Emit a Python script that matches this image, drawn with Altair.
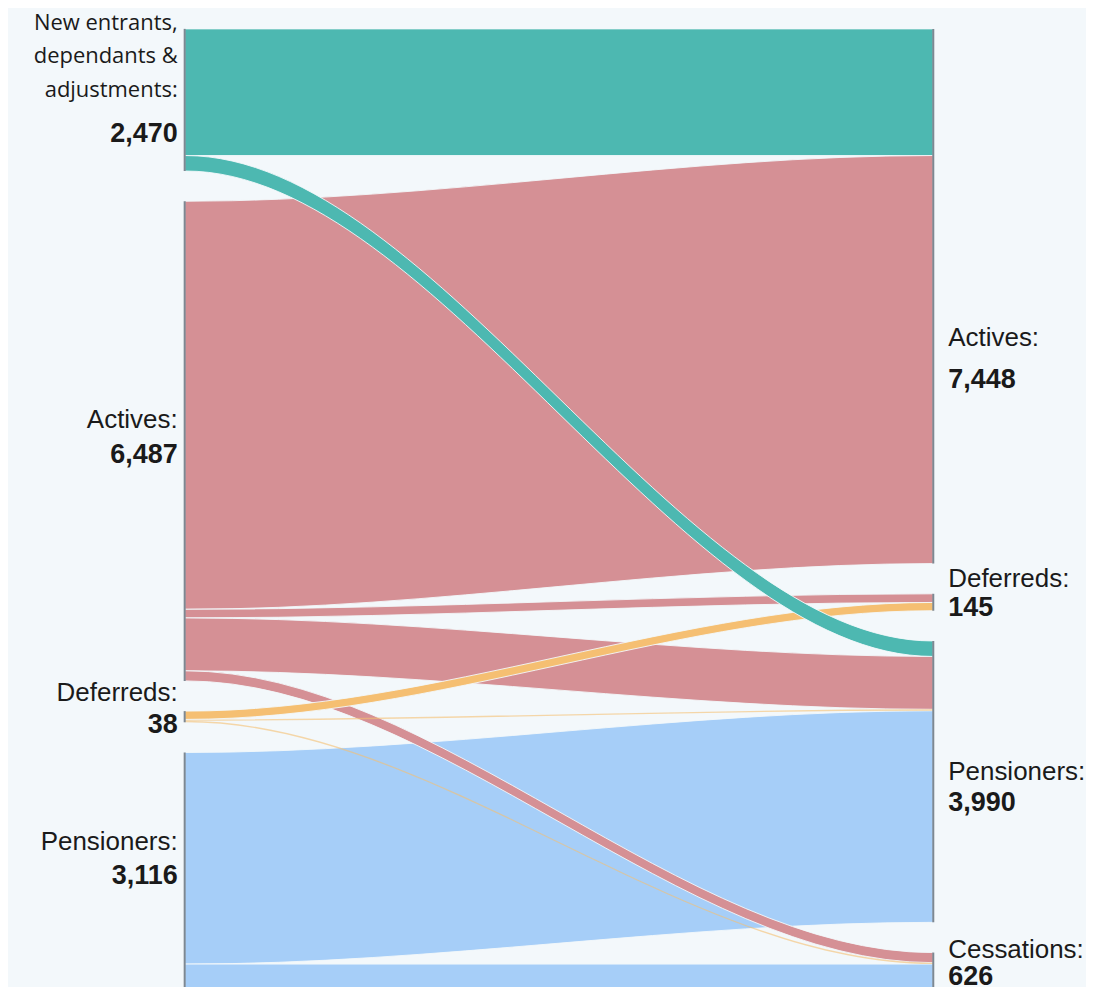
import altair as alt
import pandas as pd

# ---------------- data ----------------
left_nodes = ["New entrants", "Actives", "Deferreds", "Pensioners"]
right_nodes = ["Actives", "Deferreds", "Pensioners", "Cessations"]

flow_source = ["New entrants", "New entrants", "Actives", "Actives", "Actives", "Actives",
               "Deferreds", "Deferreds", "Deferreds", "Pensioners", "Pensioners"]
flow_target = ["Actives", "Pensioners", "Actives", "Deferreds", "Pensioners", "Cessations",
               "Deferreds", "Pensioners", "Cessations", "Pensioners", "Cessations"]
flow_value = [1760, 215, 5670, 120, 735, 140, 115, 20, 20, 2940, 460]

left_names = [["New entrants,", "dependants &", "adjustments:"], ["Actives:"], ["Deferreds:"], ["Pensioners:"]]
left_totals = ["2,470", "6,487", "38", "3,116"]
right_names = [["Actives:"], ["Deferreds:"], ["Pensioners:"], ["Cessations:"]]
right_totals = ["7,448", "145", "3,990", "626"]

# ---------------- style ----------------
BG = "#f3f8fb"
node_color = {"New entrants": "#4db8b1", "Actives": "#d59095",
              "Deferreds": "#f5bf72", "Pensioners": "#a6cef8"}
TEXT = "#1a1a1a"
K = 0.0721          # pixels per member
GAP = 420           # gap between nodes (members)
W, H = 1078, 979
X_LEFT_PX, X_SPAN_PX = 177, 750
TOP_PX = 20

# ---------------- sankey layout ----------------
n = len(flow_value)
src_pos, tgt_pos = {}, {}
node_extent = []
cur = 0.0
for nd in left_nodes:
    idx = sorted([i for i in range(n) if flow_source[i] == nd],
                 key=lambda i: right_nodes.index(flow_target[i]))
    top = cur
    for i in idx:
        src_pos[i] = (cur, cur + flow_value[i])
        cur += flow_value[i]
    node_extent.append(("L", nd, top, cur))
    cur += GAP
cur = 0.0
for nd in right_nodes:
    idx = sorted([i for i in range(n) if flow_target[i] == nd],
                 key=lambda i: left_nodes.index(flow_source[i]))
    top = cur
    for i in idx:
        tgt_pos[i] = (cur, cur + flow_value[i])
        cur += flow_value[i]
    node_extent.append(("R", nd, top, cur))
    cur += GAP

# each link: flat at the source, flat at the target, monotone curve between
rows = []
for i in range(n):
    a0, a1 = src_pos[i]
    b0, b1 = tgt_pos[i]
    for xx, (y0, y1) in zip([0, 0.001, 0.999, 1], [(a0, a1), (a0, a1), (b0, b1), (b0, b1)]):
        rows.append({"fid": i, "x": xx, "y0": y0, "y1": y1})
flows_df = pd.DataFrame(rows)

xs = alt.Scale(domain=[-X_LEFT_PX / X_SPAN_PX, (W - X_LEFT_PX) / X_SPAN_PX], nice=False, zero=False)
ys = alt.Scale(domain=[-TOP_PX / K, (H - TOP_PX) / K], reverse=True, nice=False, zero=False)

# draw order (back to front)
order = [0, 2, 3, 4, 9, 10, 5, 7, 8, 6, 1]
layers = []
for i in order:
    px_w = flow_value[i] * K
    kw = dict(interpolate="monotone", color=node_color[flow_source[i]])
    if px_w > 5:
        kw.update(stroke=BG, strokeWidth=0.9)
    else:
        kw.update(opacity=0.6)
    layers.append(
        alt.Chart(flows_df[flows_df.fid == i]).mark_area(**kw).encode(
            x=alt.X("x:Q", scale=xs, axis=None),
            y=alt.Y("y0:Q", scale=ys, axis=None),
            y2="y1:Q",
        )
    )

nodes_df = pd.DataFrame([{"side": s, "node": nd, "x": 0 if s == "L" else 1, "y0": a, "y1": b}
                         for s, nd, a, b in node_extent])
layers.append(
    alt.Chart(nodes_df).mark_rule(color="#7d8892", strokeWidth=2).encode(
        x=alt.X("x:Q", scale=xs, axis=None),
        y=alt.Y("y0:Q", scale=ys, axis=None),
        y2="y1:Q",
    )
)

# ---------------- labels ----------------
# offsets (px) of each text line from the node's centre
left_name_off = [[-77, -44, -10], [-21], [-24], [-33]]
left_total_off = [34, 14, 8, 1]
right_name_off = [[42], [-23], [-10], [-25]]
right_total_off = [84, 6, 21, 2]

lab = []
for side, nodes, names, totals, noff, toff in [
    ("L", left_nodes, left_names, left_totals, left_name_off, left_total_off),
    ("R", right_nodes, right_names, right_totals, right_name_off, right_total_off),
]:
    for j, nd in enumerate(nodes):
        ext = [e for e in node_extent if e[0] == side and e[1] == nd][0]
        c = (ext[2] + ext[3]) / 2
        xpos = -7 / X_SPAN_PX if side == "L" else 1 + 15 / X_SPAN_PX
        for t, o in zip(names[j], noff[j]):
            lab.append({"side": side, "kind": "name_os" if nd == "New entrants" else "name",
                        "text": t, "x": xpos, "y": c + o / K})
        lab.append({"side": side, "kind": "total", "text": totals[j], "x": xpos, "y": c + toff[j] / K})
lab_df = pd.DataFrame(lab)


def text_layer(side, kind, **kw):
    d = lab_df[(lab_df.side == side) & (lab_df.kind == kind)]
    return alt.Chart(d).mark_text(
        align="right" if side == "L" else "left", baseline="middle", color=TEXT, **kw
    ).encode(
        x=alt.X("x:Q", scale=xs, axis=None),
        y=alt.Y("y:Q", scale=ys, axis=None),
        text="text:N",
    )


layers += [
    text_layer("L", "name_os", font="Open Sans", fontSize=22),
    text_layer("L", "name", font="Liberation Sans", fontSize=26),
    text_layer("L", "total", font="Liberation Sans", fontSize=27, fontWeight="bold"),
    text_layer("R", "name", font="Liberation Sans", fontSize=26),
    text_layer("R", "total", font="Liberation Sans", fontSize=27, fontWeight="bold"),
]

chart = alt.layer(*layers).properties(
    width=W, height=H, padding=0, background=BG
).configure_view(stroke=None)

chart.save("out.html", embed_options={"renderer": "svg", "actions": False})
